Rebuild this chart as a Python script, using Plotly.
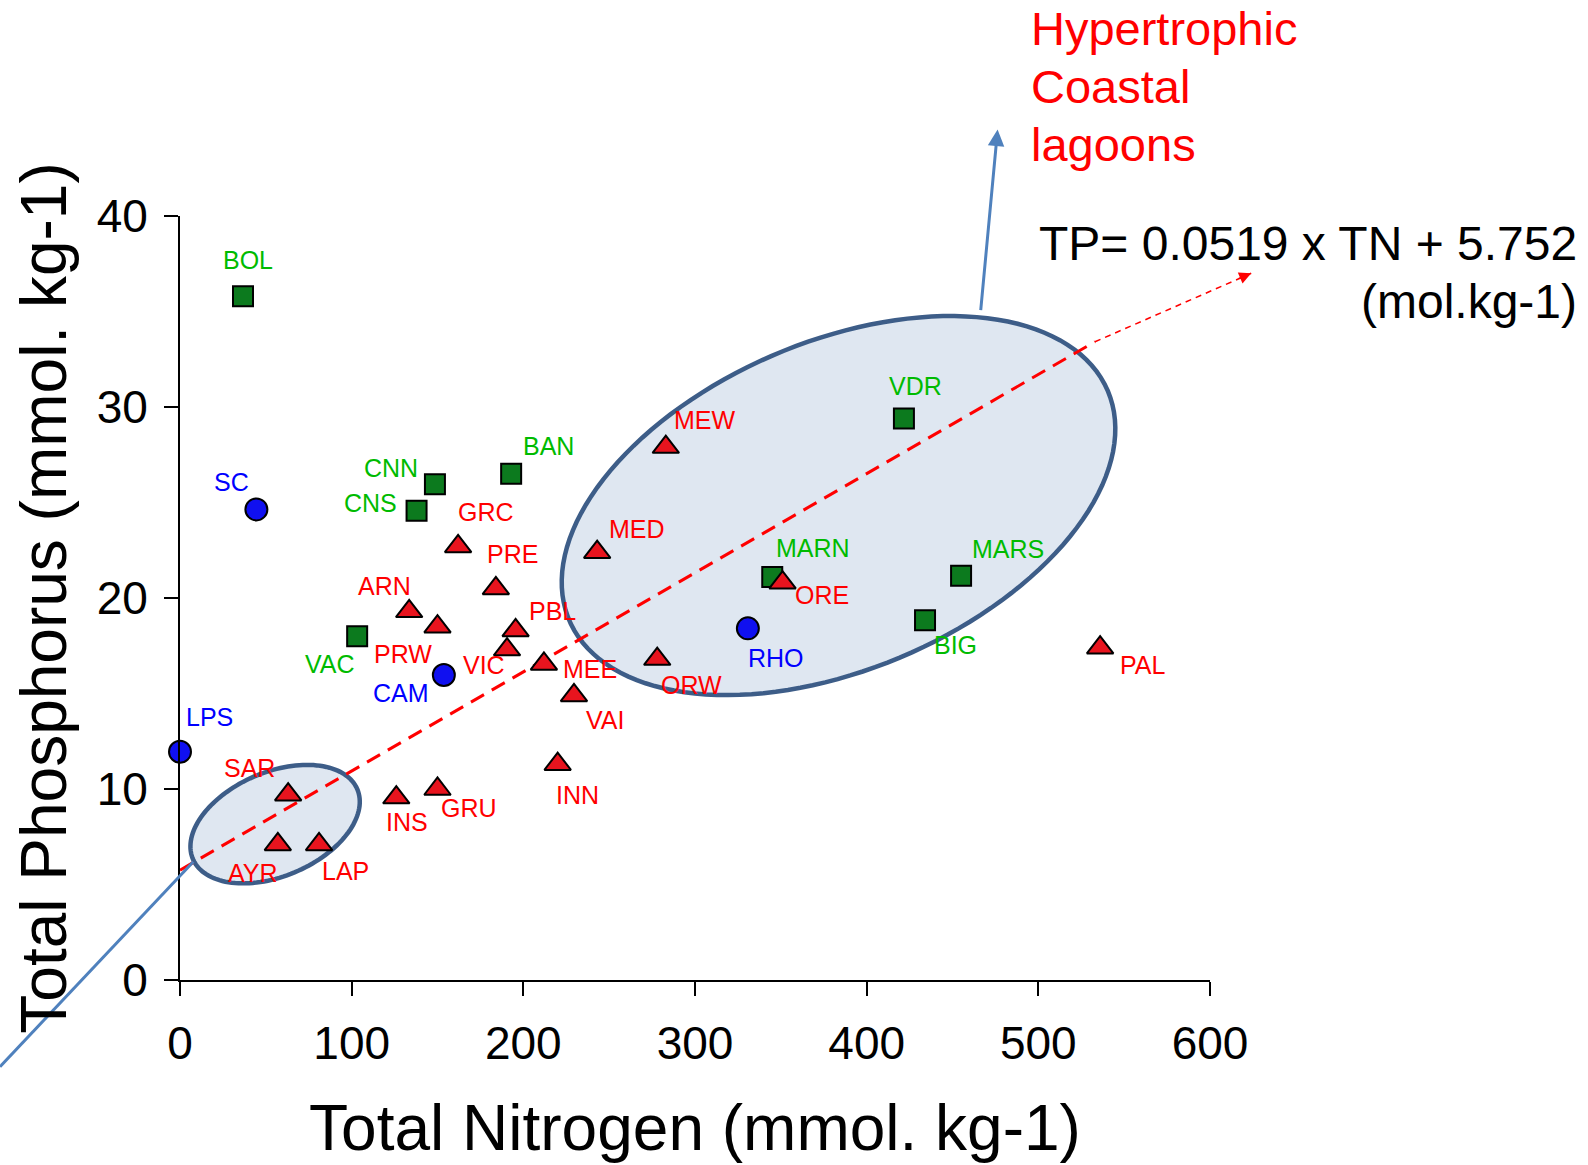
import numpy as np
import plotly.graph_objects as go

# ---------------- data ----------------
sq_names = ["BOL", "CNN", "CNS", "BAN", "VAC", "VDR", "MARN", "MARS", "BIG"]
sq_tn = [36.7, 148.5, 137.8, 192.9, 103.2, 421.7, 345.0, 455.0, 434.0]
sq_tp = [35.8, 25.95, 24.57, 26.5, 18.0, 29.4, 21.1, 21.17, 18.83]

ci_names = ["SC", "LPS", "CAM", "RHO"]
ci_tn = [44.5, 0.0, 153.7, 330.8]
ci_tp = [24.64, 11.95, 15.97, 18.41]

tr_names = ["MEW", "GRC", "MED", "PRE", "ARN", "PRW", "PBL", "VIC", "MEE", "VAI",
            "ORW", "ORE", "PAL", "INN", "GRU", "INS", "SAR", "AYR", "LAP"]
tr_tn = [283, 162, 243, 184, 133.5, 150, 195.5, 190.5, 212, 229.5,
         278, 351, 536, 220, 150, 126, 63, 57, 81]
tr_tp = [27.9, 22.7, 22.4, 20.5, 19.3, 18.5, 18.3, 17.3, 16.55, 14.9,
         16.8, 20.8, 17.4, 11.3, 10.0, 9.55, 9.7, 7.1, 7.1]

fit_slope = 0.0519
fit_intercept = 5.752
fit_tn = [0, 533]
fit_tip_tn = 624.0
fit_tip_tp = 37.0

x_ticks = [0, 100, 200, 300, 400, 500, 600]
y_ticks = [0, 10, 20, 30, 40]

group_lines = ["Hypertrophic", "Coastal", "lagoons"]
equation_lines = ["TP= 0.0519 x TN + 5.752", "(mol.kg-1)"]

# ---------------- layout constants ----------------
W, H = 1588, 1165
ML, MR, MT, MB = 180, 378, 216, 185
PW, PH = W - ML - MR, H - MT - MB
XR, YR = [0, 600], [0, 40]
PX_X = PW / (XR[1] - XR[0])
PX_Y = PH / (YR[1] - YR[0])

FONT = "Liberation Sans, Arial, sans-serif"
RED_LBL, GREEN_LBL, BLUE_LBL = "#ff0000", "#00bb00", "#0000ff"
TRI_FILL, SQ_FILL, CI_FILL = "#e8141e", "#0c7a1e", "#1010f0"
TRI_SIZE, SQ_SIZE, CI_SIZE = 23, 20, 22

# label offsets in pixels (dx right, dy down) from marker visual centre
label_off = {
    "BOL": (5, -36), "CNN": (-44, -16), "CNS": (-46, -8), "BAN": (37, -28),
    "VAC": (-27, 28), "VDR": (12, -32), "MARN": (41, -29), "MARS": (47, -27),
    "BIG": (30, 25),
    "SC": (-25, -27), "LPS": (29, -35), "CAM": (-43, 18), "RHO": (28, 30),
    "MEW": (39, -24), "GRC": (28, -32), "MED": (40, -20), "PRE": (17, -32),
    "ARN": (-25, -22), "PRW": (-35, 30), "PBL": (37, -17), "VIC": (-23, 18),
    "MEE": (46, 8), "VAI": (31, 27), "ORW": (34, 29), "ORE": (39, 15),
    "PAL": (42, 20), "INN": (20, 34), "GRU": (31, 22), "INS": (11, 27),
    "SAR": (-39, -24), "AYR": (-25, 31), "LAP": (26, 29),
}


def to_paper(x, y):
    return (x - XR[0]) / (XR[1] - XR[0]), (y - YR[0]) / (YR[1] - YR[0])


def px_to_paper(px, py):
    return (px - ML) / PW, (H - MB - py) / PH


def ellipse_path(cx, cy, a_px, b_px, ang_deg, n=140):
    t = np.linspace(0, 2 * np.pi, n)
    th = np.radians(ang_deg)
    dx = a_px * np.cos(t) * np.cos(th) - b_px * np.sin(t) * np.sin(th)
    dy = a_px * np.cos(t) * np.sin(th) + b_px * np.sin(t) * np.cos(th)
    xs = cx + dx / PX_X
    ys = cy + dy / PX_Y
    return "M " + " L ".join(f"{a:.3f},{b:.3f}" for a, b in zip(xs, ys)) + " Z"


fig = go.Figure()

# regression line
fit_tp = [fit_slope * v + fit_intercept for v in fit_tn]
fig.add_trace(go.Scatter(x=fit_tn, y=fit_tp, mode="lines",
                         line=dict(color="#ff0000", width=3, dash="15px,9px"),
                         hoverinfo="skip", cliponaxis=False))

fig.add_trace(go.Scatter(x=sq_tn, y=sq_tp, mode="markers", name="green",
                         marker=dict(symbol="square", size=SQ_SIZE, color=SQ_FILL,
                                     line=dict(color="black", width=2)),
                         cliponaxis=False, text=sq_names))
fig.add_trace(go.Scatter(x=ci_tn, y=ci_tp, mode="markers", name="blue",
                         marker=dict(symbol="circle", size=CI_SIZE, color=CI_FILL,
                                     line=dict(color="black", width=2)),
                         cliponaxis=False, text=ci_names))
fig.add_trace(go.Scatter(x=tr_tn, y=tr_tp, mode="markers", name="red",
                         marker=dict(symbol="triangle-up", size=TRI_SIZE, color=TRI_FILL,
                                     line=dict(color="black", width=2)),
                         cliponaxis=False, text=tr_names))

annotations = []


def add_labels(names, xs, ys, color, vshift):
    for n, x, y in zip(names, xs, ys):
        dx, dy = label_off[n]
        annotations.append(dict(x=x, y=y, xref="x", yref="y", text=n, showarrow=False,
                                xshift=dx, yshift=-dy + vshift,
                                font=dict(family=FONT, size=25, color=color)))


add_labels(sq_names, sq_tn, sq_tp, GREEN_LBL, 0)
add_labels(ci_names, ci_tn, ci_tp, BLUE_LBL, 0)
add_labels(tr_names, tr_tn, tr_tp, RED_LBL, TRI_SIZE / 8)

# Hypertrophic label (one line per annotation)
for i, line in enumerate(group_lines):
    hx, hy = px_to_paper(1029, 29 + 57.5 * i)
    annotations.append(dict(x=hx, y=hy, xref="paper", yref="paper", xanchor="left",
                            yanchor="middle", text=line, showarrow=False,
                            font=dict(family=FONT, size=47, color="#ff0000")))
# equation
for i, line in enumerate(equation_lines):
    ex, ey = px_to_paper(1579, 243 + 58 * i)
    annotations.append(dict(x=ex, y=ey, xref="paper", yref="paper", xanchor="right",
                            yanchor="middle", text=line, showarrow=False,
                            font=dict(family=FONT, size=48, color="black")))

# blue arrow from big ellipse
bx, by = px_to_paper(997.6, 129.6)
annotations.append(dict(x=bx, y=by, xref="paper", yref="paper", ax=-17, ay=182, text="",
                        showarrow=True, arrowhead=2, arrowsize=1.1, arrowwidth=3,
                        arrowcolor="#4f81bd", standoff=0))
# red thin dashed extension arrowhead
tx, ty = to_paper(fit_tip_tn, fit_tip_tp)
annotations.append(dict(x=tx, y=ty, xref="paper", yref="paper", ax=-14, ay=6, text="",
                        showarrow=True, arrowhead=2, arrowsize=1.6, arrowwidth=1.5,
                        arrowcolor="#ff0000", standoff=0))

shapes = [
    dict(type="path", xref="x", yref="y", layer="below",
         path=ellipse_path(383.6, 24.84, 292.7, 163.9, 23.1),
         fillcolor="#dfe7f1", line=dict(color="#3d5d88", width=4.5)),
    dict(type="path", xref="x", yref="y", layer="below",
         path=ellipse_path(55.4, 8.16, 89.3, 52, 23.0),
         fillcolor="#dfe7f1", line=dict(color="#3d5d88", width=4.5)),
]
# blue line from small ellipse toward lower-left
l0 = px_to_paper(193.3, 861.7)
l1 = px_to_paper(0, 1066.7)
shapes.append(dict(type="line", xref="paper", yref="paper", x0=l0[0], y0=l0[1], x1=l1[0], y1=l1[1],
                   line=dict(color="#4f81bd", width=3), layer="above"))
# thin dashed extension of regression
s0 = to_paper(fit_tn[-1], fit_slope * fit_tn[-1] + fit_intercept)
shapes.append(dict(type="line", xref="paper", yref="paper", x0=s0[0], y0=s0[1], x1=tx, y1=ty,
                   line=dict(color="#ff0000", width=1.5, dash="6px,5px"), layer="above"))

axis_common = dict(showline=True, linecolor="black", linewidth=2, ticks="outside",
                   ticklen=14, tickwidth=2, tickcolor="black", showgrid=False, zeroline=False,
                   tickfont=dict(family=FONT, size=46, color="black"))

fig.update_layout(
    width=W, height=H, autosize=False,
    margin=dict(l=ML, r=MR, t=MT, b=MB, pad=0),
    paper_bgcolor="white", plot_bgcolor="white",
    showlegend=False,
    xaxis=dict(range=XR, tickvals=x_ticks, automargin=False, ticklabelstandoff=8,
               title=dict(text="Total Nitrogen (mmol. kg-1)", standoff=37,
                          font=dict(family=FONT, size=64, color="black")),
               **axis_common),
    yaxis=dict(range=YR, tickvals=y_ticks, automargin=False, ticklabelstandoff=7,
               title=dict(text="Total Phosphorus (mmol. kg-1)", standoff=9,
                          font=dict(family=FONT, size=64, color="black")),
               **axis_common),
    annotations=annotations,
    shapes=shapes,
)

fig.write_html("out.html")
